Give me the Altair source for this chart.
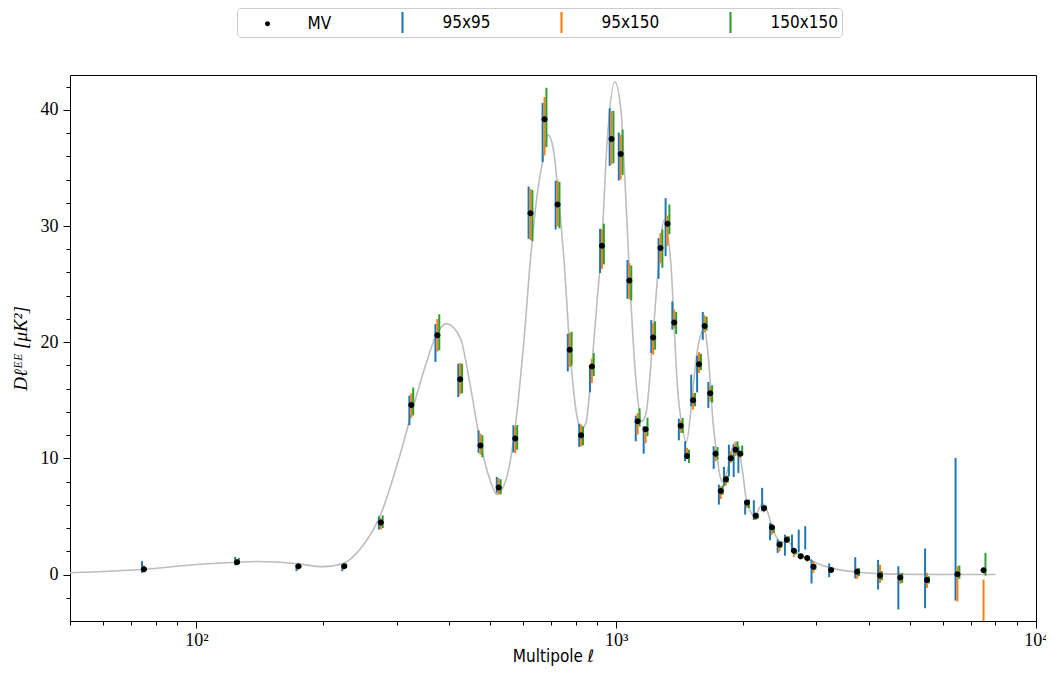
import altair as alt
import pandas as pd

# ---------------- data ----------------
ell = [75, 125, 175, 225, 275, 325, 375, 425, 475, 525, 575, 625, 675, 725, 775,
       825, 875, 925, 975, 1025, 1075, 1125, 1175, 1225, 1275, 1325, 1375, 1425,
       1475, 1525, 1575, 1625, 1675, 1725, 1775, 1825, 1875, 1925, 1975,
       2050, 2150, 2250, 2350, 2450, 2550, 2650, 2750, 2850, 2950,
       3250, 3750, 4250, 4750, 5500, 6500, 7500]

mv = [0.45, 1.06, 0.71, 0.71, 4.47, 14.6, 20.6, 16.8, 11.1, 7.5,
      11.7, 31.1, 39.2, 31.85, 19.35, 12.0, 17.9, 28.3, 37.5, 36.2,
      25.3, 13.2, 12.5, 20.4, 28.1, 30.2, 21.7, 12.8, 10.2, 15.0,
      18.1, 21.4, 15.6, 10.4, 7.2, 8.2, 10.0, 10.75, 10.4, 6.2,
      5.05, 5.7, 4.07, 2.58, 3.0, 2.04, 1.58, 1.43, 0.66, 0.40,
      0.23, -0.09, -0.26, -0.46, 0.03, 0.37]

b_lo = [0.14, 0.80, 0.29, 0.29, 3.87, 12.85, 18.3, 15.28, 10.47, 7.03,
        10.5, 28.9, 35.5, 29.7, 17.49, 10.98, 15.68, 25.95, 35.18, 33.92,
        23.74, 11.47, 10.4, 19.07, 25.46, 27.4, 21.08, 11.55, 9.75, 14.48,
        15.68, 20.2, 14.34, 9.09, 6.02, 7.6, 8.46, 8.4, 8.75, 5.16,
        4.7, 5.45, 2.95, 1.86, 1.63, 2.0, 1.9, 2.15, -0.77, -0.23,
        -0.34, -1.29, -3.01, -2.9, -2.24, None]
b_hi = [1.15, 1.52, 0.86, 0.83, 5.02, 15.4, 21.56, 18.15, 12.41, 8.4,
        12.85, 33.4, 40.6, 33.9, 20.73, 12.99, 17.98, 29.76, 40.14, 38.05,
        27.07, 13.68, 12.77, 21.9, 28.96, 32.4, 23.5, 13.42, 11.47, 17.2,
        18.84, 22.6, 16.57, 11.04, 7.74, 9.26, 11.18, 11.18, 11.04, 6.39,
        6.39, 7.46, 4.45, 3.01, 3.44, 3.44, 3.87, 4.16, 1.29, 0.95,
        1.49, 1.26, 0.72, 2.24, 10.04, None]

o_lo = [0.29, 0.86, 0.43, 0.55, 3.87, 13.5, 19.2, 15.5, 10.32, 6.9,
        10.45, 28.8, 36.1, 29.96, 17.86, 11.04, 16.49, 26.3, 35.3, 34.0,
        23.7, 12.05, 11.3, 18.92, 26.8, 28.3, 21.22, 12.19, 10.12, 14.2,
        17.35, 20.85, 14.9, 9.75, 6.5, 7.66, 9.6, 10.2, 10.03, 5.73,
        4.69, 5.36, 3.44, 2.0, 2.72, 1.52, 1.3, 1.1, 0.15, 0.14,
        -0.37, -0.72, -0.8, -1.15, -2.32, -8.5]
o_hi = [0.77, 1.35, 0.77, 0.95, 4.87, 15.6, 21.99, 18.2, 12.13, 8.3,
        12.75, 33.2, 41.1, 33.9, 20.8, 12.9, 18.55, 29.7, 39.9, 37.85,
        26.8, 13.9, 12.6, 21.65, 29.4, 30.9, 22.8, 13.25, 10.9, 15.6,
        19.13, 22.3, 16.2, 10.75, 7.6, 8.46, 10.6, 11.3, 10.6, 6.17,
        5.31, 5.88, 4.01, 2.72, 3.3, 2.15, 1.8, 1.6, 1.15, 0.57,
        0.57, 0.83, 0.14, 0.14, 0.72, -0.43]

g_lo = [0.40, 0.94, 0.55, 0.60, 4.0, 13.7, 19.3, 15.6, 10.1, 6.9,
        10.75, 28.7, 36.8, 29.8, 17.98, 11.12, 17.08, 26.7, 35.4, 34.4,
        23.6, 12.75, 11.9, 19.35, 26.4, 29.3, 20.7, 12.19, 9.6, 14.48,
        17.6, 21.0, 14.8, 9.9, 6.88, 7.9, 9.75, 10.32, 10.2, 5.73,
        4.8, 5.54, 3.58, 2.29, 2.86, 1.72, 1.4, 1.2, 0.4, 0.25,
        -0.14, -0.49, -0.72, -0.77, -0.38, -0.09]
g_hi = [0.60, 1.43, 0.80, 0.95, 5.1, 16.1, 22.4, 18.15, 12.0, 8.2,
        12.87, 33.1, 41.9, 33.8, 20.9, 12.75, 19.06, 30.2, 39.9, 38.3,
        26.6, 14.3, 13.5, 21.8, 29.7, 31.85, 22.6, 13.48, 10.75, 15.63,
        19.0, 22.2, 16.3, 10.97, 7.66, 8.52, 10.32, 11.47, 11.1, 6.45,
        5.26, 5.94, 4.16, 2.86, 3.3, 2.15, 1.8, 1.6, 0.9, 0.6,
        0.57, 0.29, 0.14, -0.14, 0.78, 1.86]

th_ell = [50, 75, 100, 125, 140, 175, 200, 225, 245, 275, 305, 325, 350, 375, 394,
          425, 448, 475, 500, 520, 552, 575, 601, 628, 650, 670, 688, 707, 729, 752,
          775, 804, 825, 847, 875, 900, 926, 950, 993, 1026, 1049, 1076, 1114, 1152,
          1178, 1225, 1259, 1300, 1353, 1372, 1399, 1436, 1470, 1510, 1550, 1595,
          1623, 1654, 1704, 1735, 1767, 1794, 1842, 1891, 1919, 1957, 2003, 2041,
          2079, 2135, 2194, 2236, 2291, 2363, 2430, 2480, 2560, 2688, 2845, 2997,
          3256, 3718, 4247, 4850, 6000, 8000]
th_D = [0.15, 0.45, 0.86, 1.06, 1.12, 0.92, 0.68, 1.0, 2.15, 5.2, 10.2, 13.8, 17.8,
        20.8, 21.6, 20.4, 16.5, 11.3, 8.2, 6.9, 8.75, 12.75, 19.6, 28.0, 33.0, 35.8,
        37.85, 36.8, 32.5, 26.8, 19.6, 13.9, 12.5, 13.05, 18.06, 23.4, 29.1, 36.85,
        42.4, 40.0, 34.0, 25.7, 16.8, 13.2, 13.9, 20.8, 26.2, 30.5, 26.2, 21.9, 16.2,
        12.8, 11.4, 14.5, 18.5, 20.8, 21.2, 19.1, 12.8, 10.5, 8.5, 8.0, 9.0, 10.9,
        11.4, 10.9, 8.7, 6.45, 5.6, 5.0, 5.73, 6.1, 5.45, 3.87, 3.0, 2.75, 2.85,
        1.86, 1.43, 1.0, 0.55, 0.22, 0.08, 0.02, 0.0, 0.0]

series_names = ["MV", "95x95", "95x150", "150x150"]
series_colors = ["#000000", "#1f77b4", "#ff7f0e", "#2ca02c"]
x_major_ticks = [100, 1000, 10000]
x_minor_ticks = [50, 60, 70, 80, 90, 200, 300, 400, 500, 600, 700, 800, 900,
                 2000, 3000, 4000, 5000, 6000, 7000, 8000, 9000]
y_major_ticks = [0, 10, 20, 30, 40]
y_minor_ticks = [-2, 2, 4, 6, 8, 12, 14, 16, 18, 22, 24, 26, 28, 32, 34, 36, 38, 42]

# ---------------- tables ----------------
theory = pd.DataFrame({"ell": th_ell, "D": th_D})

color_of = dict(zip(series_names, series_colors))
offsets = {"95x95": 1 / 1.0105, "95x150": 1.0, "150x150": 1.0105}
rows = []
for name, lo, hi in [("95x95", b_lo, b_hi), ("95x150", o_lo, o_hi), ("150x150", g_lo, g_hi)]:
    for l, a, b in zip(ell, lo, hi):
        if a is None or b is None:
            continue
        rows.append({"ell": l * offsets[name], "lo": a, "hi": b,
                     "series": name, "col": color_of[name]})
bars = pd.DataFrame(rows)
points = pd.DataFrame({"ell": ell, "D": mv, "series": "MV"})

# ---------------- styling ----------------
serif = "Liberation Serif"
sans = "DejaVu Sans Condensed, Roboto, Liberation Sans, sans-serif"

x_scale = alt.Scale(type="log", domain=[50, 10000], nice=False)
y_scale = alt.Scale(domain=[-4, 43], nice=False, zero=False)

x_major = alt.Axis(values=x_major_ticks, orient="bottom",
                   labelExpr="datum.value == 100 ? '10\u00b2' : datum.value == 1000 ? '10\u00b3' : '10\u2074'",
                   tickSize=7, tickColor="black", tickWidth=1, labelFont=serif, labelFontSize=18,
                   labelColor="black", labelPadding=3, labelFlush=False, labelOverlap=False,
                   domain=False, grid=False, title="Multipole \u2113", titleFont=sans,
                   titleFontSize=17, titleFontWeight="normal", titleColor="black",
                   titleY=40, titleBaseline="alphabetic")
x_minor = alt.Axis(values=x_minor_ticks, orient="bottom", labels=False, tickSize=4,
                   tickColor="black", tickWidth=1, domain=False, grid=False, title=None)
y_major = alt.Axis(values=y_major_ticks, orient="left", tickSize=7, tickColor="black",
                   tickWidth=1, labelFont=serif, labelFontSize=18, labelColor="black",
                   labelPadding=5, domain=False, grid=False,
                   title="D\u2113\u1d31\u1d31 [\u03bcK\u00b2]", titleFont=serif,
                   titleFontSize=19, titleFontWeight="normal", titleFontStyle="italic",
                   titleColor="black", titlePadding=10)
y_minor = alt.Axis(values=y_minor_ticks, orient="left", labels=False, tickSize=4,
                   tickColor="black", tickWidth=1, domain=False, grid=False, title=None)

circle_path = "M0,-0.24A0.24,0.24,0,1,1,0,0.24A0.24,0.24,0,1,1,0,-0.24Z"
bar_path = "M-0.1,-1H0.1V1H-0.1Z"

color_scale = alt.Scale(domain=series_names, range=series_colors)
shape_scale = alt.Scale(domain=series_names, range=[circle_path, bar_path, bar_path, bar_path])

legend = alt.Legend(title=None, orient="none", legendX=167, legendY=-67,
                    direction="horizontal", symbolSize=441, symbolStrokeWidth=0,
                    symbolOffset=16, labelFont=sans, labelFontSize=17, labelColor="black",
                    labelOffset=29.5, columnPadding=44, padding=4,
                    strokeColor="#cccccc", cornerRadius=4, fillColor="white")

# ---------------- layers ----------------
line = alt.Chart(theory).mark_line(color="#bdbdbd", strokeWidth=1.6,
                                   interpolate="monotone", clip=True).encode(
    x=alt.X("ell:Q", scale=x_scale, axis=x_major),
    y=alt.Y("D:Q", scale=y_scale, axis=y_major),
)

errs = alt.Chart(bars).mark_rule(strokeWidth=2, clip=True).encode(
    x=alt.X("ell:Q", scale=x_scale, axis=x_minor),
    y=alt.Y("lo:Q", scale=y_scale, axis=y_minor),
    y2="hi:Q",
    color=alt.Color("col:N", scale=None),
)

dots = alt.Chart(points).mark_point(filled=True, size=625, opacity=1, strokeWidth=0).encode(
    x=alt.X("ell:Q", scale=x_scale, axis=None),
    y=alt.Y("D:Q", scale=y_scale, axis=None),
    color=alt.Color("series:N", scale=color_scale, legend=legend),
    shape=alt.Shape("series:N", scale=shape_scale, legend=legend),
)

chart = alt.layer(line, errs, dots).resolve_axis(
    x="independent", y="independent"
).properties(
    width=966, height=546,
    autosize=alt.AutoSizeParams(type="none"),
    padding={"left": 62, "top": 67, "right": 10, "bottom": 45},
).configure_view(stroke="black", strokeWidth=1)

chart.save("out.html", embed_options={"renderer": "svg", "actions": False})
